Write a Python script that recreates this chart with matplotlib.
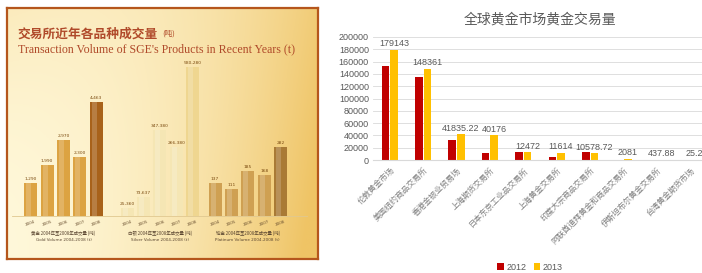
import numpy as np
import matplotlib.pyplot as plt
from matplotlib.colors import to_rgb

plt.rcParams['font.family'] = ['Noto Sans CJK SC', 'DejaVu Sans']

# ---- right chart data ----
markets = ['伦敦黄金市场', '美国纽约商品交易所', '香港金银业贸易场', '上海期货交易所',
           '日本东京工业品交易所', '上海黄金交易所', '印度大宗商品交易所',
           '阿联酋迪拜黄金和商品交易所', '伊斯坦布尔黄金交易所', '台湾黄金期货市场']
vol_2012 = [153500, 134500, 32500, 11500, 12300, 5600, 12300, 0, 0, 0]
vol_2013 = [179143, 148361, 41835.22, 40176, 12472, 11614, 10578.72, 2081, 437.88, 25.2]
labels_2013 = ['179143', '148361', '41835.22', '40176', '12472', '11614',
               '10578.72', '2081', '437.88', '25.2']

# ---- left picture data (heights in panel units) ----
years = ['2004', '2005', '2006', '2007', '2008']
gold_h = [33, 51, 76, 59, 114]
gold_lbl = ['1,290', '1,990', '2,970', '2,300', '4,463']
silver_h = [8, 19, 86, 69, 149]
silver_lbl = ['25,360', '73,637', '347,380', '266,380', '580,280']
plat_h = [33, 27, 45, 41, 69]
plat_lbl = ['137', '111', '185', '168', '282']
group_names = [('黄金 2004年至2008年成交量 (吨)', 'Gold Volume 2004-2008 (t)'),
               ('白银 2004年至2008年成交量 (吨)', 'Silver Volume 2004-2008 (t)'),
               ('铂金 2004年至2008年成交量 (吨)', 'Platinum Volume 2004-2008 (t)')]

fig = plt.figure(figsize=(7.02, 2.73), dpi=100)

# ================= left panel =================
axl = fig.add_axes([7 / 702, 14 / 273, 311 / 702, 251 / 273])
axl.set_xlim(0, 311)
axl.set_ylim(0, 251)
nx, ny = 200, 160
xx, yy = np.meshgrid(np.linspace(0, 1, nx), np.linspace(0, 1, ny))
cream = np.array(to_rgb('#FFF8DA'))
gold = np.array(to_rgb('#EFC465'))
t = np.clip(0.85 * xx ** 2.2 + 0.25 * (1 - yy) * xx + 0.25 * (1 - xx) * yy ** 2, 0, 1)
img = cream[None, None, :] * (1 - t[..., None]) + gold[None, None, :] * t[..., None]
axl.imshow(img, extent=[0, 311, 0, 251], origin='lower', aspect='auto', zorder=0)

axl.text(10, 225, '交易所近年各品种成交量', color='#B04A2A', fontsize=9.2,
         fontweight='bold', va='center')
axl.text(155, 225, '(吨)', color='#B04A2A', fontsize=5.5, va='center')
axl.text(11, 210, "Transaction Volume of SGE's Products in Recent Years (t)",
         color='#B04A2A', fontsize=8.6, family='Liberation Serif', va='center')

base = 43
axl.plot([5, 300], [base, base], color='#E0C890', lw=0.6, zorder=1)
groups = [(gold_h, gold_lbl, 23.7, 16.4, ['#DCA342'] * 4 + ['#A8621A']),
          (silver_h, silver_lbl, 120, 16.4, ['#F5E6B4'] * 4 + ['#EFD690']),
          (plat_h, plat_lbl, 208, 16.4, ['#CFA052'] * 4 + ['#A97A35'])]
for gi, (hs, lbls, x0, dx, cols) in enumerate(groups):
    xs = x0 + dx * np.arange(len(hs))
    axl.bar(xs, hs, width=13, bottom=base, color=cols, zorder=2)
    axl.bar(xs - 2, hs, width=5, bottom=base, color='white', alpha=0.18, zorder=3)
    for xv, h, s in zip(xs, hs, lbls):
        axl.text(xv, base + h + 2, s, ha='center', va='bottom', fontsize=3.2,
                 color='#7A4A10', zorder=4, family='DejaVu Sans')
    for xv, y in zip(xs, years):
        axl.text(xv, base - 4, y, ha='center', va='top', fontsize=3, rotation=20,
                 color='#6A5030', family='DejaVu Sans')
    cx = xs.mean()
    axl.text(cx, base - 17, group_names[gi][0], ha='center', va='center', fontsize=3.2,
             color='#5A4530')
    axl.text(cx, base - 24, group_names[gi][1], ha='center', va='center', fontsize=3,
             color='#5A4530', family='DejaVu Sans')
axl.set_xticks([])
axl.set_yticks([])
for sp in axl.spines.values():
    sp.set_color('#B5561C')
    sp.set_linewidth(1.6)

# ================= right chart =================
ax = fig.add_axes([373 / 702, 113 / 273, 334 / 702, 123 / 273])
x = np.arange(len(markets))
w = 0.23
ax.bar(x - 0.13, vol_2012, width=w, color='#C00000', label='2012', zorder=2)
bars13 = ax.bar(x + 0.13, vol_2013, width=w, color='#FFC000', label='2013', zorder=2)
for b, s in zip(bars13, labels_2013):
    ax.text(b.get_x() + b.get_width() / 2, b.get_height() + 2500, s, ha='center',
            va='bottom', fontsize=6.5, color='#595959', family='Liberation Sans')
ax.set_xlim(-0.5, len(markets) - 0.5)
ax.set_ylim(0, 200000)
ax.set_yticks(np.arange(0, 200001, 20000))
ax.tick_params(axis='y', labelsize=6.5, labelcolor='#595959', length=0, pad=3)
for lbl in ax.get_yticklabels():
    lbl.set_family('Liberation Sans')
ax.set_xticks(x)
ax.set_xticklabels(markets, rotation=45, ha='right', rotation_mode='anchor',
                   fontsize=5.8, color='#7F7F7F')
ax.tick_params(axis='x', length=0, pad=4)
ax.grid(axis='y', color='#D9D9D9', lw=0.6, zorder=0)
for k in ['top', 'right', 'left']:
    ax.spines[k].set_visible(False)
ax.spines['bottom'].set_color('#D9D9D9')
ax.set_title('全球黄金市场黄金交易量', fontsize=10, color='#595959', pad=10)
leg = fig.legend(loc='center', bbox_to_anchor=(530 / 702, 6 / 273), ncol=2, frameon=False,
                 fontsize=6.5, handlelength=0.7, handleheight=0.7, handletextpad=0.3,
                 columnspacing=0.8, labelcolor='#595959',
                 prop={'family': 'Liberation Sans', 'size': 6.5})

fig.savefig('out.png', dpi=100)
